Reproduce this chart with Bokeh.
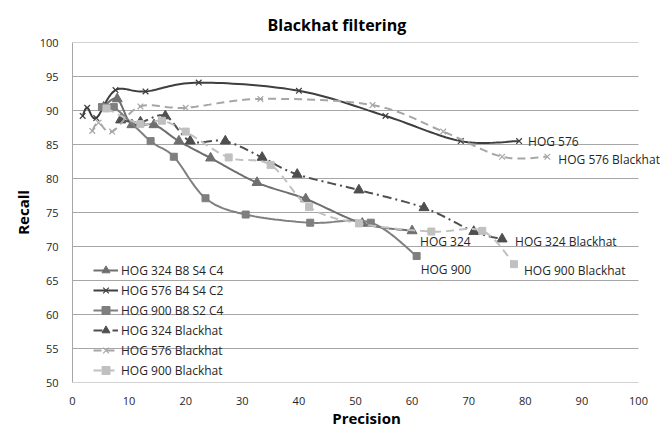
import numpy as np
from bokeh.plotting import figure
from bokeh.models import Range1d, FixedTicker, Legend, LegendItem, Label
from bokeh.embed import file_html
from bokeh.resources import INLINE

# ---- data ----
series_names = ["HOG 324 B8 S4 C4", "HOG 576 B4 S4 C2", "HOG 900 B8 S2 C4",
                "HOG 324 Blackhat", "HOG 576 Blackhat", "HOG 900 Blackhat"]
end_labels = ["HOG 324", "HOG 576", "HOG 900",
              "HOG 324 Blackhat", "HOG 576 Blackhat", "HOG 900 Blackhat"]

hog324_x = [5.5, 7.9, 10.5, 14.4, 18.8, 24.4, 32.6, 41.2, 51.2, 60.0]
hog324_y = [90.5, 91.7, 87.9, 87.9, 85.5, 83.0, 79.4, 77.0, 73.4, 72.3]

hog576_x = [1.8, 2.6, 4.2, 7.6, 12.9, 22.3, 40.0, 55.3, 68.6, 78.9]
hog576_y = [89.2, 90.4, 88.9, 93.0, 92.8, 94.1, 92.9, 89.2, 85.5, 85.5]

hog900_x = [5.2, 7.3, 13.8, 17.9, 23.5, 30.6, 42.0, 52.7, 60.8]
hog900_y = [90.5, 90.5, 85.5, 83.2, 77.1, 74.7, 73.5, 73.5, 68.6]

hog324bh_x = [8.5, 12.0, 16.4, 20.8, 27.0, 33.5, 39.7, 50.6, 62.1, 70.9, 75.9]
hog324bh_y = [88.6, 88.3, 89.2, 85.5, 85.5, 83.1, 80.6, 78.3, 75.7, 72.2, 71.1]

hog576bh_x = [3.5, 4.6, 7.0, 12.0, 20.0, 33.2, 53.0, 65.5, 75.9, 83.9]
hog576bh_y = [87.0, 88.2, 86.9, 90.6, 90.4, 91.7, 90.8, 86.9, 83.2, 83.2]

hog900bh_x = [6.0, 12.0, 15.8, 20.0, 27.6, 35.0, 41.8, 50.6, 63.4, 72.4, 78.0]
hog900bh_y = [90.3, 88.0, 88.5, 86.9, 83.1, 82.0, 75.8, 73.4, 72.2, 72.3, 67.4]

x_ticks = list(range(0, 101, 10))
y_ticks = list(range(50, 101, 5))
X_MIN, X_MAX, Y_MIN, Y_MAX = 0, 100, 50, 100

# ---- styles ----
styles = [
    dict(color="#6f6f6f", dash="solid", marker="triangle", msize=10),
    dict(color="#3f3f3f", dash="solid", marker="x", msize=8),
    dict(color="#7f7f7f", dash="solid", marker="square", msize=7),
    dict(color="#4f4f4f", dash="9 4 2 4", marker="triangle", msize=10),
    dict(color="#a6a6a6", dash="8 5", marker="x", msize=8),
    dict(color="#c0c0c0", dash="8 5", marker="square", msize=7),
]
# (dx, dy) in pixels, dy positive = downwards
label_offsets = [(8, 11), (9, 0), (4, 13), (13, 2), (11, 3), (10, 6)]

FONT = "Open Sans"
GRID = "#a6a6a6"

# frame geometry (pixels in the page)
LEFT, RIGHT_AXIS_END, RIGHT, TOP, BOTTOM = 72, 638, 660, 42, 382
W, H = 662, 430
x_end = X_MAX * (RIGHT - LEFT) / (RIGHT_AXIS_END - LEFT)   # room on the right for end labels


def smooth(xs, ys, n=20):
    """Excel-like smoothed line (Catmull-Rom Bezier through the points)."""
    pts = np.column_stack([xs, ys]).astype(float)
    out = [pts[0]]
    t = np.linspace(0, 1, n)[1:]
    for i in range(len(pts) - 1):
        p0 = pts[i - 1] if i > 0 else pts[i]
        p1 = pts[i]
        p2 = pts[i + 1]
        p3 = pts[i + 2] if i + 2 < len(pts) else pts[i + 1]
        c1 = p1 + (p2 - p0) / 6.0
        c2 = p2 - (p3 - p1) / 6.0
        seg = (((1 - t) ** 3)[:, None] * p1 + (3 * (1 - t) ** 2 * t)[:, None] * c1
               + (3 * (1 - t) * t ** 2)[:, None] * c2 + (t ** 3)[:, None] * p2)
        out.extend(seg)
    out = np.array(out)
    return out[:, 0], out[:, 1]


p = figure(width=W, height=H, output_backend="svg", toolbar_location=None,
           x_range=Range1d(X_MIN, x_end), y_range=Range1d(Y_MIN, Y_MAX),
           min_border_left=LEFT, min_border_right=W - RIGHT, min_border_top=TOP,
           min_border_bottom=H - BOTTOM)

p.title.text = "Blackhat filtering"
p.title.text_font = FONT
p.title.text_font_size = "16px"
p.title.text_font_style = "bold"
p.title.align = "left"
p.title.offset = 195
p.title.standoff = 13
p.title.text_color = "#000000"

p.outline_line_color = None
p.background_fill_color = "white"
p.border_fill_color = "white"

p.xgrid.grid_line_color = None
p.ygrid.grid_line_color = None

# horizontal gridlines (0..100 only) drawn from the tick values
p.segment(x0=[X_MIN] * len(y_ticks), y0=y_ticks, x1=[X_MAX] * len(y_ticks), y1=y_ticks,
          line_color=GRID, line_width=1)

for ax in (p.xaxis[0], p.yaxis[0]):
    ax.major_tick_line_color = None
    ax.minor_tick_line_color = None
    ax.major_label_text_font = FONT
    ax.major_label_text_font_size = "11px"
    ax.major_label_text_color = "#262626"
    ax.axis_label_text_font = FONT
    ax.axis_label_text_font_size = "15px"
    ax.axis_label_text_font_style = "bold"
    ax.axis_label_text_color = "#000000"
p.xaxis.axis_line_color = None
p.yaxis.axis_line_color = GRID

p.xaxis.ticker = FixedTicker(ticks=x_ticks)
p.yaxis.ticker = FixedTicker(ticks=y_ticks)
p.xaxis.axis_label = "Precision"
p.yaxis.axis_label = "Recall"
p.xaxis.major_label_standoff = 8
p.yaxis.major_label_standoff = 8
p.xaxis.axis_label_standoff = 0
p.yaxis.axis_label_standoff = 4

data = [(hog324_x, hog324_y), (hog576_x, hog576_y), (hog900_x, hog900_y),
        (hog324bh_x, hog324bh_y), (hog576bh_x, hog576bh_y), (hog900bh_x, hog900bh_y)]

items = []
for (xs, ys), st, name, lab, off in zip(data, styles, series_names, end_labels, label_offsets):
    sx, sy = smooth(xs, ys)
    r_line = p.line(sx, sy, line_color=st["color"], line_width=2, line_dash=st["dash"])
    if st["marker"] == "x":
        r_mark = p.scatter(xs, ys, marker="x", size=st["msize"], line_color=st["color"],
                           line_width=1.2)
    else:
        r_mark = p.scatter(xs, ys, marker=st["marker"], size=st["msize"],
                           fill_color=st["color"], line_color=st["color"])
    items.append(LegendItem(label=name, renderers=[r_line, r_mark]))
    p.add_layout(Label(x=xs[-1], y=ys[-1], text=lab, x_offset=off[0], y_offset=-off[1],
                       text_baseline="middle", text_align="left", text_font=FONT,
                       text_font_size="12px", text_color="#262626"))

legend = Legend(items=items, location=(21, 2))
legend.label_text_font = FONT
legend.label_text_font_size = "12px"
legend.label_text_color = "#262626"
legend.glyph_width = 25
legend.glyph_height = 20
legend.label_height = 20
legend.label_standoff = 3
legend.spacing = 0
legend.padding = 0
legend.margin = 0
legend.border_line_color = None
legend.background_fill_alpha = 0
p.add_layout(legend)

open("out.html", "w").write(file_html(p, INLINE))
